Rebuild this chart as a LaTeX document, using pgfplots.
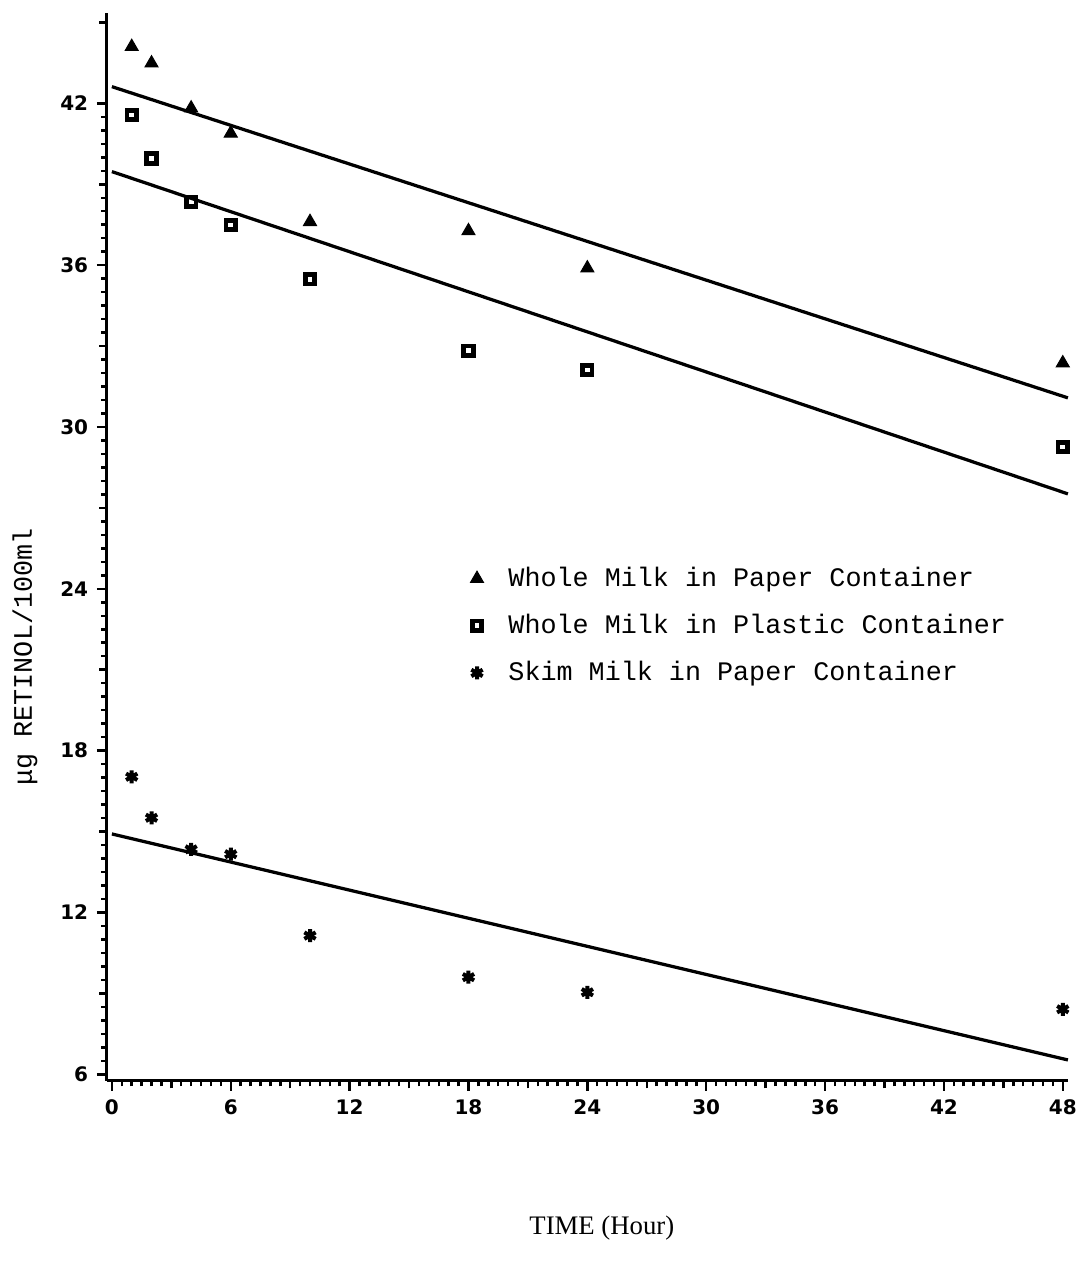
\documentclass[border=0pt]{standalone}
\usepackage{pgfplots}
\pgfplotsset{compat=1.18}
\usepackage{fontspec}
\setmainfont{Liberation Serif}
\newfontfamily\monofont{Liberation Mono}
\newfontfamily\ticksfont{DejaVu Sans}
\begin{document}
\begin{tikzpicture}
\begin{axis}[
  scale only axis, width=384.4pt, height=427.2pt,
  xmin=-0.25, xmax=48.26, ymin=5.75, ymax=45.35,
  axis x line*=bottom, axis y line*=left,
  axis line style={-, line width=1.2pt},
  xtick={0,6,...,48}, ytick={6,12,...,42},
  minor x tick num=11, minor y tick num=11,
  extra x ticks={3,9,...,45}, extra x tick labels={},
  extra y ticks={9,15,...,45}, extra y tick labels={},
  extra tick style={major tick length=3pt},
  major tick length=4pt, minor tick length=2.2pt,
  tick align=outside,
  tick style={black, line width=1pt},
  /pgf/number format/assume math mode=true,
  ticklabel style={font=\ticksfont\bfseries\fontsize{8}{9}\selectfont},
  xlabel={TIME (Hour)},
  xlabel style={at={(rel axis cs:0.515,-0.1376)}, anchor=center, font=\fontsize{10.7}{12}\selectfont},
  ylabel={μg RETINOL/100ml},
  ylabel style={at={(rel axis cs:-0.0853,0.397)}, anchor=center, font=\monofont\fontsize{10.7}{12}\selectfont},
  legend style={at={(rel axis cs:0.37,0.491)}, anchor=north west, draw=none, fill=none,
    font=\monofont\fontsize{10.7}{12}\selectfont, row sep=5.6pt,
    /tikz/every odd column/.append style={column sep=8pt}},
  legend cell align=left,
  clip=false,
]
\addplot[only marks, mark=triangle*, mark size=3pt, black]
  coordinates {(1,44.10)(2,43.49)(4,41.82)(6,40.89)(10,37.61)(18,37.27)(24,35.89)(48,32.37)};
\addlegendentry{Whole Milk in Paper Container}
\addplot[only marks, mark=square, mark size=1.9pt, black, mark options={line width=1.9pt, rounded corners=0.6pt}]
  coordinates {(1,41.57)(2,39.96)(4,38.35)(6,37.49)(10,35.48)(18,32.83)(24,32.11)(48,29.26)};
\addlegendentry{Whole Milk in Plastic Container}
\addplot[only marks, mark=asterisk, mark size=2.6pt, black, mark options={line width=1.6pt}]
  coordinates {(1,17.03)(2,15.51)(4,14.34)(6,14.16)(10,11.14)(18,9.60)(24,9.04)(48,8.41)};
\addlegendentry{Skim Milk in Paper Container}
\addplot[black, line width=1.3pt, forget plot] coordinates {(0,42.62)(48.26,31.08)};
\addplot[black, line width=1.3pt, forget plot] coordinates {(0,39.47)(48.26,27.52)};
\addplot[black, line width=1.3pt, forget plot] coordinates {(0,14.91)(48.26,6.53)};
\path (rel axis cs:-0.1113,1.0122) (rel axis cs:1.0052,-0.1723);
\end{axis}
\end{tikzpicture}
\end{document}
